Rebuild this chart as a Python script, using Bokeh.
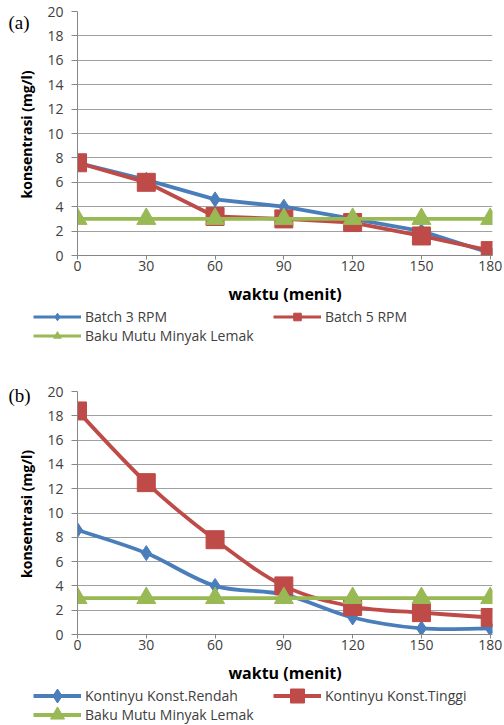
import math
from bokeh.plotting import figure
from bokeh.models import Range1d, FixedTicker, Legend, LegendItem, Label
from bokeh.layouts import column, row
from bokeh.embed import file_html
from bokeh.resources import INLINE

# ---- data ----
waktu = [0, 30, 60, 90, 120, 150, 180]
batch3 = [7.6, 6.2, 4.6, 4.0, 3.0, 2.0, 0.2]
batch5 = [7.6, 6.0, 3.2, 3.0, 2.7, 1.6, 0.4]
baku = [3, 3, 3, 3, 3, 3, 3]
rendah = [8.6, 6.7, 4.0, 3.3, 1.4, 0.5, 0.5]
tinggi = [18.4, 12.5, 7.8, 4.0, 2.3, 1.8, 1.4]
y_ticks = [0, 2, 4, 6, 8, 10, 12, 14, 16, 18, 20]
x_ticks = [0, 30, 60, 90, 120, 150, 180]

BLUE = "#4a7ebb"
RED = "#be4b48"
GREEN = "#98b954"
FONT = "Open Sans"
TXT = "#404040"
TAG_W = 38


def smooth(xs, ys):
    n = len(xs)
    x0, y0, x1, y1, cx0, cy0, cx1, cy1 = [], [], [], [], [], [], [], []
    for i in range(n - 1):
        pm = max(i - 1, 0)
        pp = min(i + 2, n - 1)
        x0.append(xs[i]); y0.append(ys[i])
        x1.append(xs[i + 1]); y1.append(ys[i + 1])
        cx0.append(xs[i] + (xs[i + 1] - xs[pm]) / 6.0)
        cy0.append(ys[i] + (ys[i + 1] - ys[pm]) / 6.0)
        cx1.append(xs[i + 1] - (xs[pp] - xs[i]) / 6.0)
        cy1.append(ys[i + 1] - (ys[pp] - ys[i]) / 6.0)
    return dict(x0=x0, y0=y0, x1=x1, y1=y1, cx0=cx0, cy0=cy0, cx1=cx1, cy1=cy1)


def draw_series(p, series, smooth_lines, lw):
    out = []
    for label, ys, color, marker, size in series:
        if smooth_lines and marker != "triangle":
            r_line = p.bezier(source=smooth(waktu, ys), x0="x0", y0="y0", x1="x1", y1="y1",
                              cx0="cx0", cy0="cy0", cx1="cx1", cy1="cy1",
                              line_color=color, line_width=lw)
        else:
            r_line = p.line(waktu, ys, line_color=color, line_width=lw)
        r_pt = p.scatter(waktu, ys, marker=marker, size=size, fill_color=color,
                         line_color=color)
        out.append((label, r_line, r_pt))
    return out


def blank(width, height, xr=None, yr=None):
    q = figure(width=width, height=height, output_backend="svg", toolbar_location=None,
               x_range=xr or Range1d(0, width), y_range=yr or Range1d(0, height),
               min_border_left=0, min_border_right=0, min_border_top=0,
               min_border_bottom=0, x_axis_location=None, y_axis_location=None,
               frame_align=False)
    q.outline_line_color = None
    q.xgrid.grid_line_color = None
    q.ygrid.grid_line_color = None
    return q


def make_fig(height, top, bottom, series, smooth_lines):
    p = figure(width=504 - TAG_W, height=height, output_backend="svg",
               toolbar_location=None, frame_align=False,
               x_range=Range1d(0, 181), y_range=Range1d(0, 20),
               min_border_left=77 - TAG_W, min_border_right=12, min_border_top=top,
               min_border_bottom=bottom)
    p.outline_line_color = None
    p.xgrid.grid_line_color = None
    p.ygrid.grid_line_color = "#a0a0a0"
    p.ygrid.grid_line_width = 1
    p.ygrid.ticker = FixedTicker(ticks=y_ticks)
    p.yaxis.ticker = FixedTicker(ticks=y_ticks)
    p.xaxis.ticker = FixedTicker(ticks=x_ticks)
    for ax in (p.xaxis[0], p.yaxis[0]):
        ax.axis_line_color = "#868686"
        ax.major_tick_line_color = "#868686"
        ax.minor_tick_line_color = None
        ax.major_tick_in = 0
        ax.major_label_text_font = FONT
        ax.major_label_text_font_size = "14px"
        ax.major_label_text_color = TXT
        ax.axis_label_text_font = FONT
        ax.axis_label_text_font_style = "bold"
        ax.axis_label_text_color = "#000000"
    p.yaxis.major_tick_out = 6
    p.yaxis.major_label_standoff = 8
    p.xaxis.major_tick_out = 4
    p.xaxis.major_label_standoff = 1
    p.xaxis.axis_label = "waktu (menit)"
    p.xaxis.axis_label_text_font_size = "16px"
    p.xaxis.axis_label_standoff = 9
    draw_series(p, series, smooth_lines, 3.8)
    return p


def make_tag(height, tag, tag_top, frame_top, frame_bottom):
    t = blank(TAG_W, height)
    t.add_layout(Label(x=8, y=height - tag_top, text=tag, text_font="Liberation Serif",
                       text_baseline="middle", text_align="left",
                       text_font_size="19px", text_color="#000000"))
    t.add_layout(Label(x=26, y=height - (frame_top + frame_bottom) / 2.0,
                       text="konsentrasi (mg/l)", angle=math.pi / 2,
                       text_font=FONT, text_font_style="bold",
                       text_font_size="14px", text_color="#000000",
                       text_align="center", text_baseline="middle"))
    return t


def make_legend_row(series, H, label_width, lw, font_size):
    q = blank(504, 19, Range1d(1000, 1001), Range1d(1000, 1001))
    rs = draw_series(q, series, False, lw)
    items = [LegendItem(label=lab, renderers=[rl, rp]) for lab, rl, rp in rs]
    leg = Legend(items=items, orientation="horizontal",
                 location=(33, 19 - (19 - H) / 2.0 - H),
                 glyph_width=48, glyph_height=H, label_height=H, label_width=label_width,
                 spacing=188 - label_width,
                 label_standoff=4, padding=0, margin=0,
                 border_line_color=None, background_fill_alpha=0,
                 label_text_font=FONT, label_text_font_size=font_size,
                 label_text_color=TXT)
    q.add_layout(leg, "center")
    return q


series_a = [("Batch 3 RPM", batch3, BLUE, "diamond", 15),
            ("Batch 5 RPM", batch5, RED, "square", 18),
            ("Baku Mutu Minyak Lemak", baku, GREEN, "triangle", 19)]
series_b = [("Kontinyu Konst.Rendah", rendah, BLUE, "diamond", 15),
            ("Kontinyu Konst.Tinggi", tinggi, RED, "square", 18),
            ("Baku Mutu Minyak Lemak", baku, GREEN, "triangle", 19)]

# chart (a): canvas rows 0-307, legend rows 307-345
pa = make_fig(307, 11, 50, series_a, False)
ta = make_tag(307, "(a)", 22, 11, 257)
la1 = make_legend_row(series_a[:2], 19, 175, 3.0, "14px")
la2 = make_legend_row(series_a[2:], 19, 175, 3.0, "14px")

# chart (b): canvas rows 345-686, legend rows 686-724
pb = make_fig(341, 46, 50, series_b, True)
tb = make_tag(341, "(b)", 50, 46, 291)
lb1 = make_legend_row(series_b[:2], 35, 172, 3.8, "14px")
lb2 = make_legend_row(series_b[2:], 35, 172, 3.8, "14px")

layout = column(row(ta, pa), la1, la2, row(tb, pb), lb1, lb2, spacing=0)
open("out.html", "w").write(file_html(layout, INLINE))
